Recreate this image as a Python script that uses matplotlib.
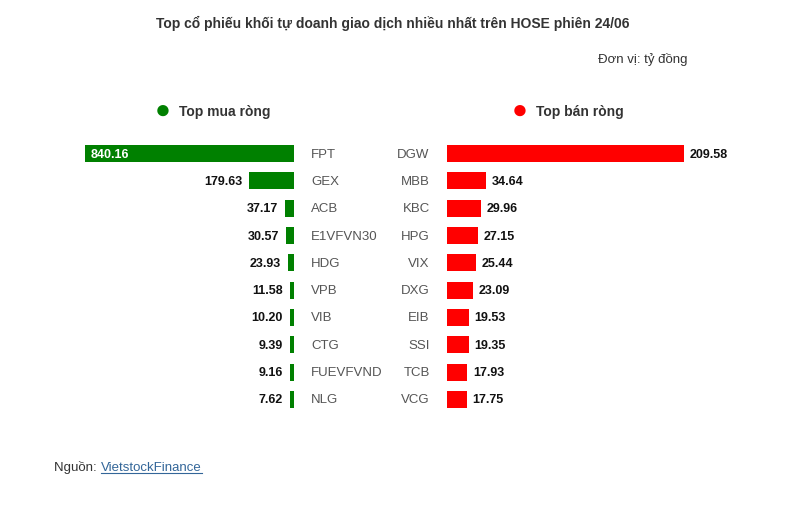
import matplotlib
matplotlib.use("Agg")
import matplotlib.pyplot as plt

buy_names = ["FPT","GEX","ACB","E1VFVN30","HDG","VPB","VIB","CTG","FUEVFVND","NLG"]
buy_vals = [840.16,179.63,37.17,30.57,23.93,11.58,10.20,9.39,9.16,7.62]
sell_names = ["DGW","MBB","KBC","HPG","VIX","DXG","EIB","SSI","TCB","VCG"]
sell_vals = [209.58,34.64,29.96,27.15,25.44,23.09,19.53,19.35,17.93,17.75]

W, H = 787, 506
fig = plt.figure(figsize=(W/100, H/100), dpi=100)
plt.rcParams['font.family'] = ['Liberation Sans', 'DejaVu Sans']

def fx(p): return p/W
def fy(p): return 1 - p/H

row_top, row_h = 141, 273
yb = fy(row_top + row_h); hh = row_h/H
axL = fig.add_axes([fx(85), yb, fx(209), hh])
axR = fig.add_axes([fx(447), yb, fx(237), hh])
green, red = "#008000", "#ff0000"
n = len(buy_vals)
ys = list(range(n))
minw_l = 840.16*4/209
minw_r = 209.58*4/237
axL.barh(ys, [max(v, minw_l) for v in buy_vals], height=0.62, color=green)
axL.set_xlim(840.16, 0)
axR.barh(ys, [max(v, minw_r) for v in sell_vals], height=0.62, color=red)
axR.set_xlim(0, 209.58)
for ax in (axL, axR):
    ax.set_ylim(n-0.5, -0.5)
    ax.axis("off")

for i, (nm, v) in enumerate(zip(buy_names, buy_vals)):
    if i == 0:
        axL.annotate(f"{v:.2f}", (840.16, i), xytext=(4, 0), textcoords="offset points",
                     ha="left", va="center", fontsize=9, fontweight="bold", color="white")
    else:
        axL.annotate(f"{v:.2f}", (max(v, minw_l), i), xytext=(-5, 0), textcoords="offset points",
                     ha="right", va="center", fontsize=9, fontweight="bold", color="#111111")
    axL.annotate(nm, (0, i), xytext=(12.5, 0), textcoords="offset points",
                 ha="left", va="center", fontsize=9.5, color="#555555")
for i, (nm, v) in enumerate(zip(sell_names, sell_vals)):
    axR.annotate(f"{v:.2f}", (max(v, minw_r), i), xytext=(4, 0), textcoords="offset points",
                 ha="left", va="center", fontsize=9, fontweight="bold", color="#111111")
    axR.annotate(nm, (0, i), xytext=(-12.5, 0), textcoords="offset points",
                 ha="right", va="center", fontsize=9.5, color="#555555")

fig.text(fx(393), fy(23), "Top cổ phiếu khối tự doanh giao dịch nhiều nhất trên HOSE phiên 24/06",
         ha="center", va="center", fontsize=10, fontweight="bold", color="#333333")
fig.text(fx(687), fy(59), "Đơn vị: tỷ đồng", ha="right", va="center", fontsize=9.5, color="#333333")
fig.text(fx(163), fy(111), "●", ha="center", va="center", fontsize=19, color=green)
fig.text(fx(179), fy(112), "Top mua ròng", ha="left", va="center", fontsize=10, fontweight="bold", color="#333333")
fig.text(fx(520), fy(111), "●", ha="center", va="center", fontsize=19, color=red)
fig.text(fx(536), fy(112), "Top bán ròng", ha="left", va="center", fontsize=10, fontweight="bold", color="#333333")
fig.text(fx(54), fy(468), "Nguồn: ", ha="left", va="center", fontsize=9.5, color="#333333")
fig.text(fx(101), fy(468), "VietstockFinance", ha="left", va="center", fontsize=9.5, color="#336699")
fig.add_artist(plt.Line2D([fx(101), fx(202)], [fy(474), fy(474)], color="#336699", lw=0.8))
fig.savefig("out.png", dpi=100, facecolor="white")
